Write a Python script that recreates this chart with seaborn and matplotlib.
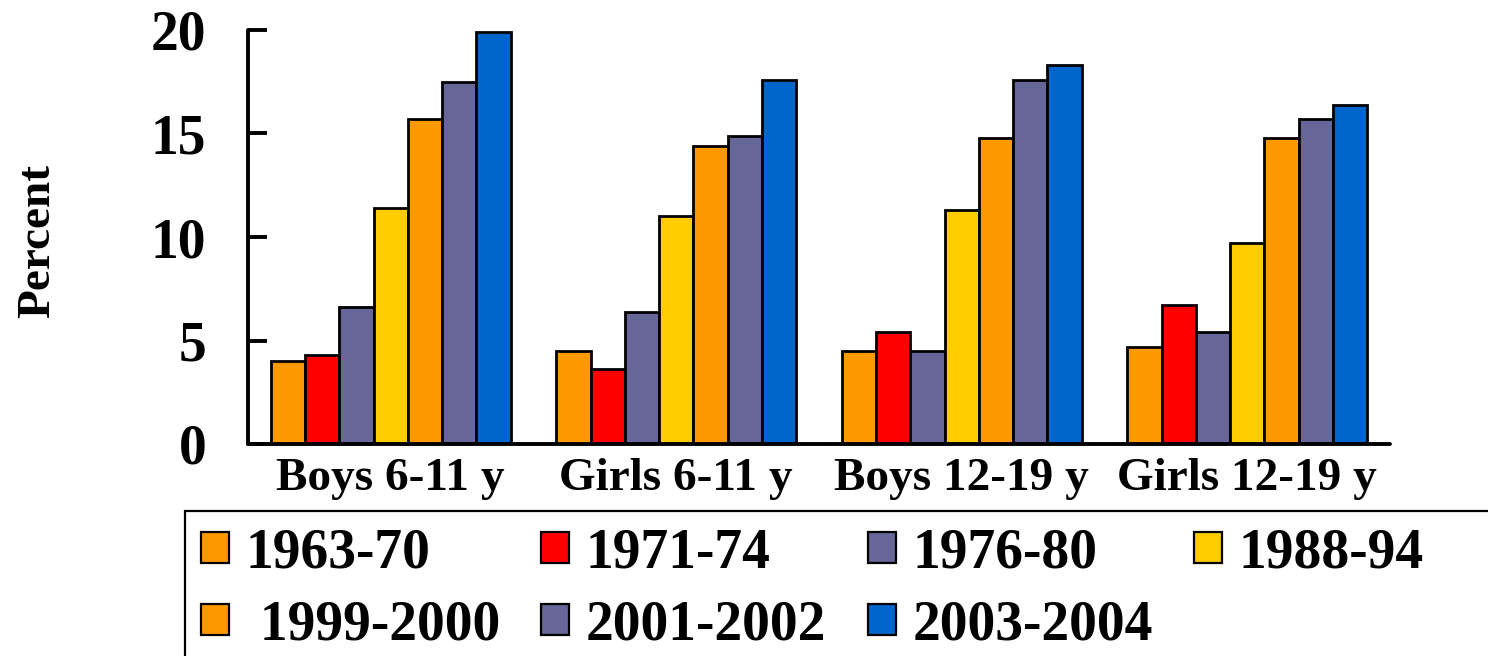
import matplotlib
matplotlib.use("Agg")
import matplotlib.pyplot as plt
from matplotlib.patches import Patch, Rectangle
import seaborn as sns
import pandas as pd

# Survey periods and population groups
periods = ["1963-70", "1971-74", "1976-80", "1988-94",
           "1999-2000", "2001-2002", "2003-2004"]
legend_labels = ["1963-70", "1971-74", "1976-80", "1988-94",
                 " 1999-2000", "2001-2002", "2003-2004"]
groups = ["Boys 6-11 y", "Girls 6-11 y", "Boys 12-19 y", "Girls 12-19 y"]

# Percent overweight per group, one value per survey period
boys_6_11 = [4.0, 4.3, 6.6, 11.4, 15.7, 17.5, 19.9]
girls_6_11 = [4.5, 3.6, 6.4, 11.0, 14.4, 14.9, 17.6]
boys_12_19 = [4.5, 5.4, 4.5, 11.3, 14.8, 17.6, 18.3]
girls_12_19 = [4.7, 6.7, 5.4, 9.7, 14.8, 15.7, 16.4]

colors = ["#FF9900", "#FF0000", "#666699", "#FFCC00",
          "#FF9900", "#666699", "#0066CC"]

yticks = [0, 5, 10, 15, 20]

rows = []
for g, vals in zip(groups, [boys_6_11, girls_6_11, boys_12_19, girls_12_19]):
    for p, v in zip(periods, vals):
        rows.append({"group": g, "period": p, "percent": v})
df = pd.DataFrame(rows)

sns.set_style("white")
plt.rcParams["font.family"] = ["Liberation Serif", "DejaVu Serif"]
plt.rcParams["font.weight"] = "bold"
plt.rcParams["text.color"] = "black"
plt.rcParams["axes.labelcolor"] = "black"
plt.rcParams["xtick.color"] = "black"
plt.rcParams["ytick.color"] = "black"

fig = plt.figure(figsize=(14.88, 6.56), dpi=100)
W, H = 1488, 656
ax = fig.add_axes([248 / W, 1 - 444 / H, (1390 - 248) / W, (444 - 30) / H])

palette = dict(zip(periods, colors))
sns.barplot(data=df, x="group", y="percent", hue="period",
            hue_order=periods, order=groups, palette=palette,
            width=0.84, edgecolor="black", linewidth=2.0,
            saturation=1, legend=False, ax=ax)

ax.set_xlim(-0.5, 3.5)
ax.set_ylim(0, 20)
ax.set_yticks(yticks)
ax.set_yticklabels([str(t) for t in yticks])
ax.set_xlabel("")
ax.set_ylabel("Percent", fontsize=34, fontweight="bold", color="black")
ax.yaxis.set_label_coords(-0.165, 0.49)

for side in ["top", "right"]:
    ax.spines[side].set_visible(False)
for side in ["left", "bottom"]:
    ax.spines[side].set_linewidth(2.8)
    ax.spines[side].set_color("black")
    ax.spines[side].set_capstyle("round")

ax.tick_params(axis="y", left=True, direction="in", length=14, width=2.8,
               labelsize=40, pad=30, colors="black", labelcolor="black")
ax.tick_params(axis="x", bottom=False, length=0, labelsize=34, pad=10,
               colors="black", labelcolor="black")
for lbl in ax.get_xticklabels() + ax.get_yticklabels():
    lbl.set_fontweight("bold")
    lbl.set_color("black")

# Legend in row-major order: 4 entries on the first row, 3 on the second
handles = [Patch(facecolor=c, edgecolor="black", linewidth=1.6) for c in colors]
order = [0, 4, 1, 5, 2, 6, 3]
leg = fig.legend([handles[i] for i in order], [legend_labels[i] for i in order],
                 ncol=4, loc="upper left",
                 bbox_to_anchor=(190 / W, 1 - 516 / H),
                 frameon=False, prop={"family": "Liberation Serif",
                                      "weight": "bold", "size": 40},
                 handlelength=0.5, handleheight=0.5, handletextpad=0.3,
                 columnspacing=0.75, labelspacing=0.36, borderpad=0.2,
                 borderaxespad=0)
for t in leg.get_texts():
    t.set_color("black")

# Legend frame running past the right and bottom edges
fig.patches.append(Rectangle((185 / W, -0.05), 1.1, (1 - 511 / H) + 0.05,
                             transform=fig.transFigure, fill=False,
                             edgecolor="black", linewidth=1.6,
                             clip_on=False))

fig.savefig("out.png", dpi=100, facecolor="white")
